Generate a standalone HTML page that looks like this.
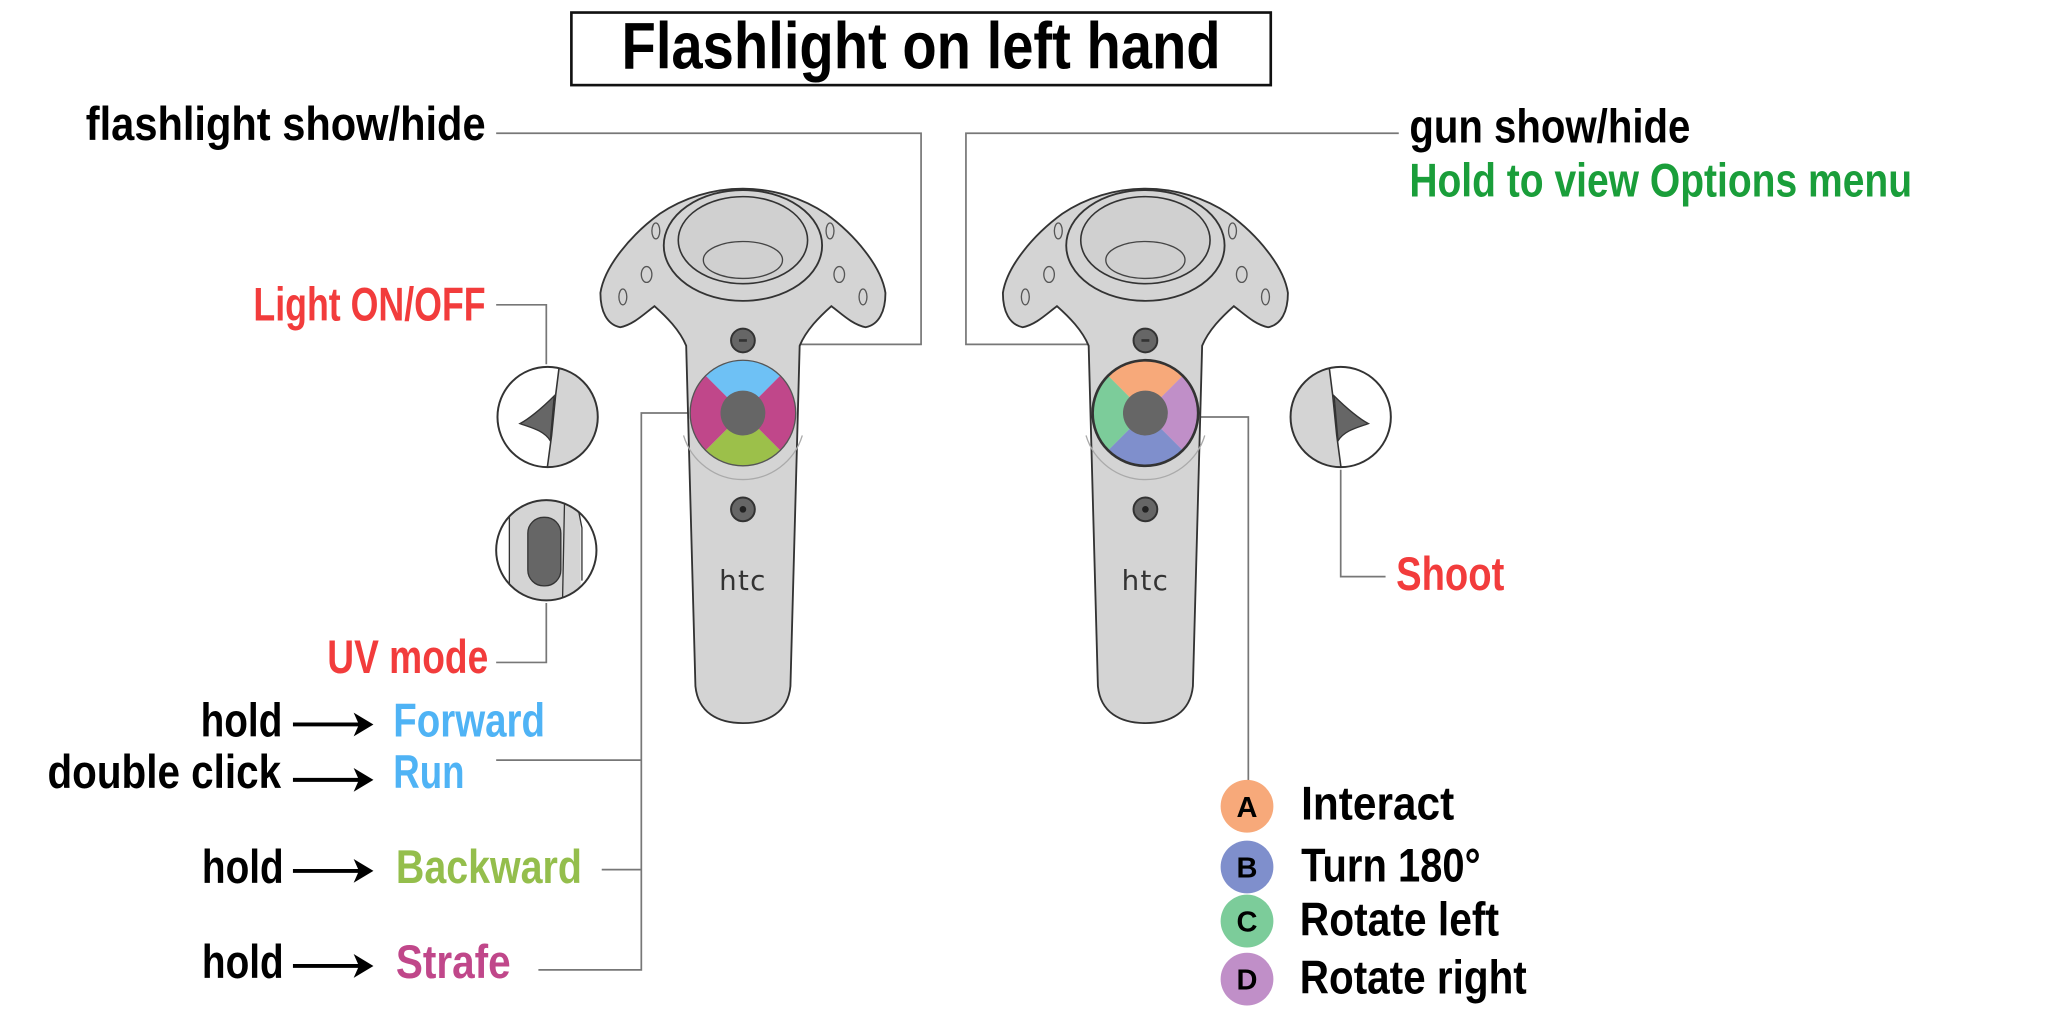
<!DOCTYPE html>
<html><head><meta charset="utf-8"><style>
html,body{margin:0;padding:0;background:#fff;}
svg{display:block;}
text{font-family:"Liberation Sans Narrow","Liberation Sans",sans-serif;font-weight:bold;}
</style></head><body>
<svg width="2048" height="1024" viewBox="0 0 1552 776" xmlns="http://www.w3.org/2000/svg">
<defs>
<g id="ctrl">
  <path d="M520,262 C515,250 505,240 496,232 C488,238 480,246 470,248 C460,246 455,236 455,222 C458,202 478,178 500,162 C518,150 540,143 563,143 C586,143 608,150 626,162 C648,178 668,202 671,222 C671,236 666,246 656,248 C646,246 638,238 630,232 C621,240 611,250 606,262 L599,520 C597,540 582,548 563,548 C544,548 529,540 527,520 Z" fill="#d4d4d4" stroke="#333" stroke-width="1.4"/>
  <ellipse cx="563" cy="186" rx="60" ry="42" fill="#d4d4d4" stroke="#333" stroke-width="1.4"/>
  <ellipse cx="563" cy="182" rx="49" ry="33" fill="#d0d0d0" stroke="#333" stroke-width="1.2"/>
  <ellipse cx="563" cy="197" rx="30" ry="14" fill="none" stroke="#444" stroke-width="1"/>
  <ellipse cx="490" cy="208" rx="4" ry="6" fill="none" stroke="#555"/>
  <ellipse cx="636" cy="208" rx="4" ry="6" fill="none" stroke="#555"/>
  <ellipse cx="472" cy="225" rx="3" ry="6" fill="none" stroke="#555"/>
  <ellipse cx="654" cy="225" rx="3" ry="6" fill="none" stroke="#555"/>
  <ellipse cx="497" cy="175" rx="3" ry="6" fill="none" stroke="#555"/>
  <ellipse cx="629" cy="175" rx="3" ry="6" fill="none" stroke="#555"/>
  <path d="M518,330 A47,47 0 0 0 608,330" fill="none" stroke="#aaa" stroke-width="1"/>
  <circle cx="563" cy="258" r="9" fill="#666" stroke="#333" stroke-width="1.5"/>
  <rect x="560" y="257" width="6" height="2" fill="#333"/>
  <circle cx="563" cy="386" r="9" fill="#666" stroke="#333" stroke-width="1.5"/>
  <circle cx="563" cy="386" r="2.5" fill="#222"/>
  <text x="563" y="447" font-size="21" text-anchor="middle" fill="#333" style="font-family:'DejaVu Sans',sans-serif;font-weight:normal" letter-spacing="1">htc</text>
</g>
</defs>

<rect x="433" y="9.5" width="530" height="55" fill="#fff" stroke="#111" stroke-width="2"/>
<text x="698" y="52" font-size="50" text-anchor="middle" textLength="454" lengthAdjust="spacingAndGlyphs" fill="#000">Flashlight on left hand</text>

<g fill="none" stroke="#777" stroke-width="1.3">
  <polyline points="376,101 698,101 698,261 572,261"/>
  <polyline points="376,231 414,231 414,276"/>
  <polyline points="376,502 414,502 414,457"/>
  <polyline points="523,313 486,313 486,735 408,735"/>
  <line x1="486" y1="576" x2="376" y2="576"/>
  <line x1="486" y1="659" x2="456" y2="659"/>
  <polyline points="1060,101 732,101 732,261 858,261"/>
  <polyline points="908,316 946,316 946,594"/>
  <polyline points="1016,356 1016,437 1050,437"/>
</g>

<use href="#ctrl"/>
<use href="#ctrl" transform="translate(305,0)"/>

<g transform="translate(563,313)">
  <path d="M0,0 L-28.3,-28.3 A40,40 0 0 1 28.3,-28.3 Z" fill="#6ec1f5"/>
  <path d="M0,0 L28.3,-28.3 A40,40 0 0 1 28.3,28.3 Z" fill="#c0478a"/>
  <path d="M0,0 L28.3,28.3 A40,40 0 0 1 -28.3,28.3 Z" fill="#9cc04a"/>
  <path d="M0,0 L-28.3,28.3 A40,40 0 0 1 -28.3,-28.3 Z" fill="#c0478a"/>
  <circle r="40" fill="none" stroke="#555" stroke-width="1"/>
  <circle r="17" fill="#666"/>
</g>
<g transform="translate(868,313)">
  <path d="M0,0 L-28.3,-28.3 A40,40 0 0 1 28.3,-28.3 Z" fill="#f7a97a"/>
  <path d="M0,0 L28.3,-28.3 A40,40 0 0 1 28.3,28.3 Z" fill="#c08fc8"/>
  <path d="M0,0 L28.3,28.3 A40,40 0 0 1 -28.3,28.3 Z" fill="#7f8fcc"/>
  <path d="M0,0 L-28.3,28.3 A40,40 0 0 1 -28.3,-28.3 Z" fill="#7ccc9a"/>
  <circle r="40" fill="none" stroke="#333" stroke-width="2"/>
  <circle r="17" fill="#666"/>
</g>

<clipPath id="c1"><circle cx="415" cy="316" r="38"/></clipPath>
<clipPath id="c2"><circle cx="414" cy="417" r="38"/></clipPath>
<clipPath id="c3"><circle cx="1016" cy="316" r="38"/></clipPath>
<circle cx="415" cy="316" r="38" fill="#fff"/>
<g clip-path="url(#c1)">
  <path d="M424,276 L421,300 L418,330 L414,360 L460,360 L460,276 Z" fill="#d4d4d4" stroke="#333" stroke-width="1.2"/>
  <path d="M420,300 C410,310 400,318 394,321 C402,324 412,326 417,334 Z" fill="#666" stroke="#333"/>
</g>
<circle cx="415" cy="316" r="38" fill="none" stroke="#333" stroke-width="1.5"/>

<circle cx="414" cy="417" r="38" fill="#fff"/>
<g clip-path="url(#c2)">
  <rect x="386" y="370" width="54" height="100" fill="#d4d4d4"/>
  <line x1="386" y1="370" x2="386" y2="470" stroke="#333"/>
  <line x1="428" y1="370" x2="426" y2="470" stroke="#333"/>
  <path d="M438,385 L441,400 L441,440" fill="none" stroke="#333"/>
  <rect x="400" y="392" width="25" height="52" rx="12" fill="#666" stroke="#333"/>
</g>
<circle cx="414" cy="417" r="38" fill="none" stroke="#333" stroke-width="1.5"/>

<circle cx="1016" cy="316" r="38" fill="#fff"/>
<g clip-path="url(#c3)">
  <path d="M1007,276 L1010,300 L1013,330 L1017,360 L970,360 L970,276 Z" fill="#d4d4d4" stroke="#333" stroke-width="1.2"/>
  <path d="M1011,300 C1021,310 1031,318 1037,321 C1029,324 1019,326 1014,334 Z" fill="#666" stroke="#333"/>
</g>
<circle cx="1016" cy="316" r="38" fill="none" stroke="#333" stroke-width="1.5"/>

<g font-size="36">
<text x="368" y="106" text-anchor="end" textLength="303" lengthAdjust="spacingAndGlyphs" fill="#000">flashlight show/hide</text>
<text x="368" y="243" text-anchor="end" textLength="176" lengthAdjust="spacingAndGlyphs" fill="#f23c3c">Light ON/OFF</text>
<text x="370" y="510" text-anchor="end" textLength="122" lengthAdjust="spacingAndGlyphs" fill="#f23c3c">UV mode</text>

<text x="152" y="558" textLength="62" lengthAdjust="spacingAndGlyphs" fill="#000">hold</text>
<text x="36" y="597" textLength="177" lengthAdjust="spacingAndGlyphs" fill="#000">double click</text>
<text x="153" y="669" textLength="62" lengthAdjust="spacingAndGlyphs" fill="#000">hold</text>
<text x="153" y="741" textLength="62" lengthAdjust="spacingAndGlyphs" fill="#000">hold</text>

<text x="298" y="558" textLength="115" lengthAdjust="spacingAndGlyphs" fill="#4fb3f5">Forward</text>
<text x="298" y="597" textLength="54" lengthAdjust="spacingAndGlyphs" fill="#4fb3f5">Run</text>
<text x="300" y="669" textLength="141" lengthAdjust="spacingAndGlyphs" fill="#94be4c">Backward</text>
<text x="300" y="741" textLength="87" lengthAdjust="spacingAndGlyphs" fill="#c0478a">Strafe</text>

<text x="1068" y="108" textLength="213" lengthAdjust="spacingAndGlyphs" fill="#000">gun show/hide</text>
<text x="1068" y="149" textLength="381" lengthAdjust="spacingAndGlyphs" fill="#1a9e3a">Hold to view Options menu</text>
<text x="1058" y="447" textLength="82" lengthAdjust="spacingAndGlyphs" fill="#f23c3c">Shoot</text>

<text x="986" y="621" textLength="116" lengthAdjust="spacingAndGlyphs" fill="#000">Interact</text>
<text x="986" y="668" textLength="136" lengthAdjust="spacingAndGlyphs" fill="#000">Turn 180°</text>
<text x="985" y="709" textLength="151" lengthAdjust="spacingAndGlyphs" fill="#000">Rotate left</text>
<text x="985" y="753" textLength="172" lengthAdjust="spacingAndGlyphs" fill="#000">Rotate right</text>
</g>

<g stroke="#000" stroke-width="3" fill="#000">
  <line x1="222" y1="549" x2="274" y2="549"/><path d="M268,540 L283,549 L268,558 L272,549 Z" stroke="none"/>
  <line x1="222" y1="591" x2="274" y2="591"/><path d="M268,582 L283,591 L268,600 L272,591 Z" stroke="none"/>
  <line x1="222" y1="660" x2="274" y2="660"/><path d="M268,651 L283,660 L268,669 L272,660 Z" stroke="none"/>
  <line x1="222" y1="732" x2="274" y2="732"/><path d="M268,723 L283,732 L268,741 L272,732 Z" stroke="none"/>
</g>

<g font-size="22" text-anchor="middle" fill="#000">
  <circle cx="945" cy="611" r="20" fill="#f7a97a"/><text x="945" y="619">A</text>
  <circle cx="945" cy="657" r="20" fill="#7f8fcc"/><text x="945" y="665">B</text>
  <circle cx="945" cy="698" r="20" fill="#7ccc9a"/><text x="945" y="706">C</text>
  <circle cx="945" cy="742" r="20" fill="#c08fc8"/><text x="945" y="750">D</text>
</g>
</svg>
</body></html>
